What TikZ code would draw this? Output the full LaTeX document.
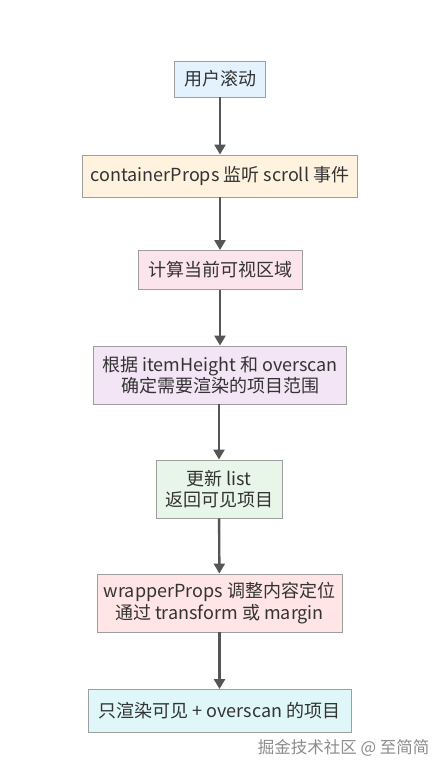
\documentclass[tikz,border=0pt]{standalone}
\usepackage{fontspec}
\setmainfont{Noto Sans CJK SC}
\usetikzlibrary{arrows.meta}
\definecolor{bord}{HTML}{9E9E9E}
\definecolor{txt}{HTML}{333333}
\definecolor{arr}{HTML}{555555}
\definecolor{cA}{HTML}{E3F2FD}
\definecolor{cB}{HTML}{FFF3E0}
\definecolor{cC}{HTML}{FCE4EC}
\definecolor{cD}{HTML}{F3E5F5}
\definecolor{cE}{HTML}{E8F5E9}
\definecolor{cF}{HTML}{FFE5E5}
\definecolor{cG}{HTML}{E0F7FA}
\tikzset{
  box/.style={draw=bord, line width=0.9pt, text=txt, align=center, inner sep=0pt,
     font=\fontsize{18}{21.5}\selectfont},
  flow/.style={draw=arr, line width=2.4pt, -{Triangle[length=10pt,width=11pt]}, shorten >=0pt},
}
\begin{document}
\begin{tikzpicture}[x=1pt,y=-1pt]
\useasboundingbox[fill=white] (0,0) rectangle (447,773);
\node[box, fill=cA, minimum width=91pt, minimum height=36pt] (a) at (220,79) {用户滚动};
\node[box, fill=cB, minimum width=275pt, minimum height=42pt] (b) at (220,176) {containerProps 监听 scroll 事件};
\node[box, fill=cC, minimum width=164pt, minimum height=39pt] (c) at (220,270) {计算当前可视区域};
\node[box, fill=cD, minimum width=253pt, minimum height=58pt] (d) at (220,375) {根据 itemHeight 和 overscan\\确定需要渲染的项目范围};
\node[box, fill=cE, minimum width=126pt, minimum height=58pt] (e) at (219,489) {更新 list\\返回可见项目};
\node[box, fill=cF, minimum width=245pt, minimum height=58pt] (f) at (219.5,603) {wrapperProps 调整内容定位\\通过 transform 或 margin};
\node[box, fill=cG, minimum width=263pt, minimum height=43pt] (g) at (219.5,711) {只渲染可见 + overscan 的项目};
\draw[flow] (a) -- (b);
\draw[flow] (b) -- (c);
\draw[flow] (c) -- (d);
\draw[flow] (d.south -| e.north) -- (e);
\draw[flow] (e) -- (f);
\draw[flow] (f) -- (g);
\node[text=gray!90, font=\fontsize{16.5}{18}\selectfont, anchor=east] (w) at (433,748) {掘金技术社区 @ 至简简};
\end{tikzpicture}
\end{document}
